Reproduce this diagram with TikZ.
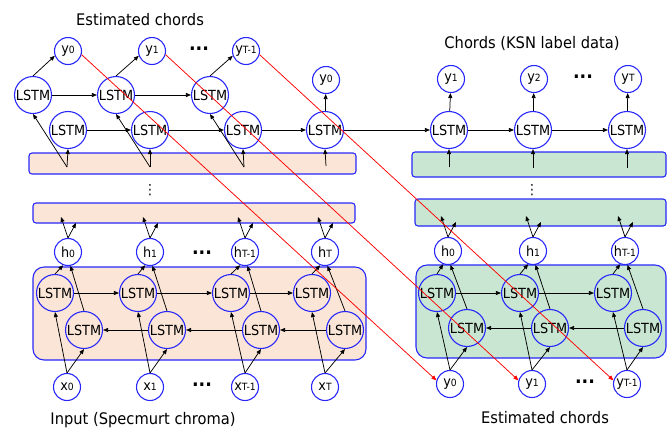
\documentclass[tikz,border=0pt]{standalone}
\usepackage{fontspec}
\setmainfont{DejaVu Sans}[FakeStretch=0.92]
\usepackage{amsmath,amssymb}
\usetikzlibrary{arrows.meta,positioning}
\definecolor{lstmblue}{RGB}{40,40,250}
\definecolor{encpeach}{RGB}{251,229,214}
\definecolor{decgreen}{RGB}{200,230,209}
\newcommand{\lbl}[2]{#1{\fontsize{10}{10}\selectfont #2}}

\begin{document}
\begin{tikzpicture}[x=1bp, y=-1bp, every node/.style={font=\fontsize{14}{15}\selectfont}]
  \tikzset{LSTMStyle/.style={circle, draw=lstmblue, line width=1.1pt, minimum size=37bp, inner sep=0pt},
    VarStyle/.style={circle, draw=lstmblue, line width=1.1pt, minimum size=27bp, inner sep=0pt},
    TitleStyle/.style={font=\fontsize{16}{18}\selectfont},
    BandStyle/.style={draw=lstmblue, line width=1.1pt, rounded corners=3bp},
    BoxStyle/.style={draw=lstmblue, line width=1.1pt, rounded corners=11bp},
    DotsStyle/.style={font=\fontsize{19}{19}\selectfont\bfseries, inner sep=0pt},
    ArrowStyle/.style={-{Triangle[length=5pt,width=4pt]}, line width=0.75pt},
    RedStyle/.style={-{Triangle[length=5pt,width=4pt]}, draw=red, line width=0.75pt}}
  \useasboundingbox (0,0) rectangle (667,430);

  % coloured bands and boxes
  \draw[BandStyle, fill=encpeach] (29,153) rectangle (356,174);
  \draw[BandStyle, fill=decgreen] (412,152) rectangle (666,177);
  \draw[BandStyle, fill=encpeach] (33,203) rectangle (355,223);
  \draw[BandStyle, fill=decgreen] (415,199) rectangle (666,226);
  \draw[BoxStyle, fill=encpeach] (33,267) rectangle (366,360);
  \draw[BoxStyle, fill=decgreen] (416,265) rectangle (666,358);

  % texts
  \node[TitleStyle] (title1) at (140,20) {Estimated chords};
  \node[TitleStyle] (title2) at (532,43) {Chords (KSN label data)};
  \node[TitleStyle] (title3) at (143,420) {Input (Specmurt chroma)};
  \node[TitleStyle] (title4) at (545,418) {Estimated chords};
  \node[inner sep=0pt] (vdots1) at (150,190) {⋮};
  \node[inner sep=0pt] (vdots2) at (532,190) {⋮};

  % top left: estimated chords
  \node[VarStyle] (ty0) at (68,51) {\lbl{y}{0}};
  \node[VarStyle] (ty1) at (152,51) {\lbl{y}{1}};
  \node[VarStyle] (ty2) at (246,51) {\lbl{y}{T-1}};
  \node[DotsStyle] (tdots) at (199,49) {...};
  \node[LSTMStyle] (u0) at (33,95) {LSTM};
  \node[LSTMStyle] (u1) at (116,95) {LSTM};
  \node[LSTMStyle] (u2) at (210,95) {LSTM};
  \node[LSTMStyle] (d0) at (68,130) {LSTM};
  \node[LSTMStyle] (d1) at (150,130) {LSTM};
  \node[LSTMStyle] (d2) at (243,130) {LSTM};
  \node[LSTMStyle] (d3) at (325,130) {LSTM};
  \node[VarStyle] (ya) at (326,80) {\lbl{y}{0}};

  % top right: chords
  \node[LSTMStyle] (r1) at (449,130) {LSTM};
  \node[LSTMStyle] (r2) at (533,130) {LSTM};
  \node[LSTMStyle] (r3) at (627,130) {LSTM};
  \node[VarStyle] (ry1) at (451,79) {\lbl{y}{1}};
  \node[VarStyle] (ry2) at (534,79) {\lbl{y}{2}};
  \node[VarStyle] (ry3) at (628,79) {\lbl{y}{T}};
  \node[DotsStyle] (rdots) at (583,77) {...};

  \coordinate (p0) at (67,167);
  \coordinate (p1) at (150,167);
  \coordinate (p2) at (244,167);
  \coordinate (p3) at (326,166);
  \coordinate (q1) at (449,167);
  \coordinate (q2) at (533,168);
  \coordinate (q3) at (627,168);

  % encoder, left
  \node[VarStyle] (h0) at (68,252) {\lbl{h}{0}};
  \node[VarStyle] (h1) at (150,252) {\lbl{h}{1}};
  \node[VarStyle] (h2) at (245,252) {\lbl{h}{T-1}};
  \node[VarStyle] (h3) at (325,252) {\lbl{h}{T}};
  \node[DotsStyle] (hdots) at (202,253) {...};
  \node[LSTMStyle] (f0) at (55,293) {LSTM};
  \node[LSTMStyle] (f1) at (138,293) {LSTM};
  \node[LSTMStyle] (f2) at (231,293) {LSTM};
  \node[LSTMStyle] (f3) at (312,293) {LSTM};
  \node[LSTMStyle] (b0) at (84,330) {LSTM};
  \node[LSTMStyle] (b1) at (167,330) {LSTM};
  \node[LSTMStyle] (b2) at (261,330) {LSTM};
  \node[LSTMStyle] (b3) at (345,330) {LSTM};
  \node[VarStyle] (x0) at (67,387) {\lbl{x}{0}};
  \node[VarStyle] (x1) at (150,387) {\lbl{x}{1}};
  \node[VarStyle] (x2) at (245,387) {\lbl{x}{T-1}};
  \node[VarStyle] (x3) at (325,387) {\lbl{x}{T}};
  \node[DotsStyle] (xdots) at (202,385) {...};

  % encoder, right
  \node[VarStyle] (g0) at (448,251) {\lbl{h}{0}};
  \node[VarStyle] (g1) at (533,251) {\lbl{h}{1}};
  \node[VarStyle] (g2) at (625,251) {\lbl{h}{T-1}};
  \node[LSTMStyle] (e0) at (437,293) {LSTM};
  \node[LSTMStyle] (e1) at (520,293) {LSTM};
  \node[LSTMStyle] (e2) at (613,293) {LSTM};
  \node[LSTMStyle] (c0) at (467,328) {LSTM};
  \node[LSTMStyle] (c1) at (550,328) {LSTM};
  \node[LSTMStyle] (c2) at (643,328) {LSTM};
  \node[VarStyle] (z0) at (450,384) {\lbl{y}{0}};
  \node[VarStyle] (z1) at (532,384) {\lbl{y}{1}};
  \node[VarStyle] (z2) at (627,384) {\lbl{y}{T-1}};
  \node[DotsStyle] (zdots) at (585,382) {...};

  % decoder connections
  \draw[ArrowStyle] (u0) -- (u1);
  \draw[ArrowStyle] (u1) -- (u2);
  \draw[ArrowStyle] (d0) -- (d1);
  \draw[ArrowStyle] (d1) -- (d2);
  \draw[ArrowStyle] (d2) -- (d3);
  \draw[ArrowStyle] (d3) -- (r1);
  \draw[ArrowStyle] (r1) -- (r2);
  \draw[ArrowStyle] (r2) -- (r3);
  \draw[ArrowStyle] (u0.north) -- (ty0.200);
  \draw[ArrowStyle] (u1.north) -- (ty1.200);
  \draw[ArrowStyle] (u2.north) -- (ty2.200);
  \draw[ArrowStyle] (d3) -- (ya);
  \draw[ArrowStyle] (r1) -- (ry1);
  \draw[ArrowStyle] (r2) -- (ry2);
  \draw[ArrowStyle] (r3) -- (ry3);
  \draw[ArrowStyle] (p0) -- (d0.south);
  \draw[ArrowStyle] (p0) -- (u0.south);
  \draw[ArrowStyle] (p1) -- (d1.south);
  \draw[ArrowStyle] (p1) -- (u1.south);
  \draw[ArrowStyle] (p2) -- (d2.south);
  \draw[ArrowStyle] (p2) -- (u2.south);
  \draw[ArrowStyle] (p3) -- (d3.south);
  \draw[ArrowStyle] (q1) -- (r1.south);
  \draw[ArrowStyle] (q2) -- (r2.south);
  \draw[ArrowStyle] (q3) -- (r3.south);

  % encoder connections, left
  \draw[ArrowStyle] (f0) -- (f1);
  \draw[ArrowStyle] (f1) -- (f2);
  \draw[ArrowStyle] (f2) -- (f3);
  \draw[ArrowStyle] (b3) -- (b2);
  \draw[ArrowStyle] (b2) -- (b1);
  \draw[ArrowStyle] (b1) -- (b0);
  \draw[ArrowStyle] (x0.north) -- (f0.south);
  \draw[ArrowStyle] (x0.north) -- (b0.south);
  \draw[ArrowStyle] (x1.north) -- (f1.south);
  \draw[ArrowStyle] (x1.north) -- (b1.south);
  \draw[ArrowStyle] (x2.north) -- (f2.south);
  \draw[ArrowStyle] (x2.north) -- (b2.south);
  \draw[ArrowStyle] (x3.north) -- (f3.south);
  \draw[ArrowStyle] (x3.north) -- (b3.south);
  \draw[ArrowStyle] (f0.north) -- (h0.250);
  \draw[ArrowStyle] (b0.north) -- (h0.280);
  \draw[ArrowStyle] (f1.north) -- (h1.250);
  \draw[ArrowStyle] (b1.north) -- (h1.280);
  \draw[ArrowStyle] (f2.north) -- (h2.250);
  \draw[ArrowStyle] (b2.north) -- (h2.280);
  \draw[ArrowStyle] (f3.north) -- (h3.250);
  \draw[ArrowStyle] (b3.north) -- (h3.280);
  \draw[ArrowStyle] (h0.north) -- ++(-7,-21);
  \draw[ArrowStyle] (h0.north) -- ++(8,-15);
  \draw[ArrowStyle] (h1.north) -- ++(-7,-21);
  \draw[ArrowStyle] (h1.north) -- ++(8,-15);
  \draw[ArrowStyle] (h2.north) -- ++(-7,-21);
  \draw[ArrowStyle] (h2.north) -- ++(8,-15);
  \draw[ArrowStyle] (h3.north) -- ++(-7,-21);
  \draw[ArrowStyle] (h3.north) -- ++(8,-15);

  % encoder connections, right
  \draw[ArrowStyle] (e0) -- (e1);
  \draw[ArrowStyle] (e1) -- (e2);
  \draw[ArrowStyle] (c2) -- (c1);
  \draw[ArrowStyle] (c1) -- (c0);
  \draw[ArrowStyle] (z0.north) -- (e0.south);
  \draw[ArrowStyle] (z0.north) -- (c0.south);
  \draw[ArrowStyle] (z1.north) -- (e1.south);
  \draw[ArrowStyle] (z1.north) -- (c1.south);
  \draw[ArrowStyle] (z2.north) -- (e2.south);
  \draw[ArrowStyle] (z2.north) -- (c2.south);
  \draw[ArrowStyle] (e0.north) -- (g0.250);
  \draw[ArrowStyle] (c0.north) -- (g0.280);
  \draw[ArrowStyle] (e1.north) -- (g1.250);
  \draw[ArrowStyle] (c1.north) -- (g1.280);
  \draw[ArrowStyle] (e2.north) -- (g2.250);
  \draw[ArrowStyle] (c2.north) -- (g2.280);
  \draw[ArrowStyle] (g0.north) -- ++(-7,-21);
  \draw[ArrowStyle] (g0.north) -- ++(8,-15);
  \draw[ArrowStyle] (g1.north) -- ++(-7,-21);
  \draw[ArrowStyle] (g1.north) -- ++(8,-15);
  \draw[ArrowStyle] (g2.north) -- ++(-7,-21);
  \draw[ArrowStyle] (g2.north) -- ++(8,-15);

  % estimated chords fed back
  \draw[RedStyle] (ty0.345) -- (z0.165);
  \draw[RedStyle] (ty1.345) -- (z1.165);
  \draw[RedStyle] (ty2.345) -- (z2.165);
\end{tikzpicture}
\end{document}
